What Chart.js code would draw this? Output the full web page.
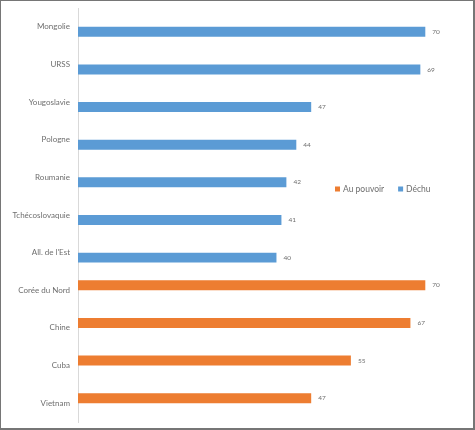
<!DOCTYPE html>
<html>
<head>
<meta charset="utf-8">
<script src="https://cdn.jsdelivr.net/npm/chart.js@4"></script>
<style>
  html, body { margin: 0; padding: 0; background: #fff; }
  #wrap {
    position: absolute; left: 0; top: 0;
    width: 475px; height: 430px; box-sizing: border-box;
    border-style: solid; border-color: #767676;
    border-width: 1px 2px 2px 1px;
    background: #fff;
  }
  canvas { display: block; }
</style>
</head>
<body>
<div id="wrap"><canvas id="c" width="472" height="427"></canvas></div>
<script>
const categories = ["Mongolie", "URSS", "Yougoslavie", "Pologne", "Roumanie",
  "Tchécoslovaquie", "All. de l'Est", "Corée du Nord", "Chine", "Cuba", "Vietnam"];
const seriesNames = ["Au pouvoir", "Déchu"];
const auPouvoir = [null, null, null, null, null, null, null, 70, 67, 55, 47];
const dechu = [70, 69, 47, 44, 42, 41, 40, null, null, null, null];
const colors = ["#ED7D31", "#5B9BD5"];

const FONT = "Lato, 'Open Sans', sans-serif";
const TEXT = "#6e6e6e";

const valueLabels = {
  id: 'valueLabels',
  afterDatasetsDraw(chart) {
    const ctx = chart.ctx;
    ctx.save();
    ctx.font = "6.5px " + FONT;
    ctx.fillStyle = TEXT;
    ctx.textBaseline = 'middle';
    ctx.textAlign = 'left';
    chart.data.datasets.forEach((ds, di) => {
      const meta = chart.getDatasetMeta(di);
      meta.data.forEach((bar, i) => {
        const v = ds.data[i];
        if (v === null || v === undefined) return;
        ctx.fillText(String(v), bar.x + 7, bar.y);
      });
    });
    ctx.restore();
  }
};

const insideLegend = {
  id: 'insideLegend',
  afterDraw(chart) {
    const ctx = chart.ctx;
    const a = chart.chartArea;
    ctx.save();
    ctx.font = "8.5px " + FONT;
    ctx.textBaseline = 'middle';
    ctx.textAlign = 'left';
    let x = a.left + 257;
    const y = a.top + 181;
    chart.data.datasets.forEach((ds) => {
      ctx.fillStyle = ds.backgroundColor;
      ctx.fillRect(x, y - 2.5, 5, 5);
      ctx.fillStyle = TEXT;
      ctx.fillText(ds.label, x + 8, y);
      x += 8 + ctx.measureText(ds.label).width + 14;
    });
    ctx.restore();
  }
};

new Chart(document.getElementById('c'), {
  type: 'bar',
  data: {
    labels: categories,
    datasets: [
      { label: seriesNames[0], data: auPouvoir, backgroundColor: colors[0] },
      { label: seriesNames[1], data: dechu, backgroundColor: colors[1] }
    ]
  },
  options: {
    indexAxis: 'y',
    responsive: false,
    animation: false,
    devicePixelRatio: 1,
    barPercentage: 1,
    categoryPercentage: 0.53,
    layout: { padding: { left: 0, right: 8, top: 7, bottom: 6 } },
    plugins: {
      legend: { display: false },
      tooltip: { enabled: false }
    },
    scales: {
      x: {
        display: false,
        min: 0,
        max: 78
      },
      y: {
        afterFit(scale) {
          scale.width = 77;
          scale.paddingTop = 0;
          scale.paddingBottom = 0;
        },
        grid: { display: false, drawTicks: false },
        border: { display: true, color: '#d9d9d9', width: 1 },
        ticks: {
          color: TEXT,
          font: { family: FONT, size: 8 },
          padding: 8
        }
      }
    }
  },
  plugins: [valueLabels, insideLegend]
});
</script>
</body>
</html>
